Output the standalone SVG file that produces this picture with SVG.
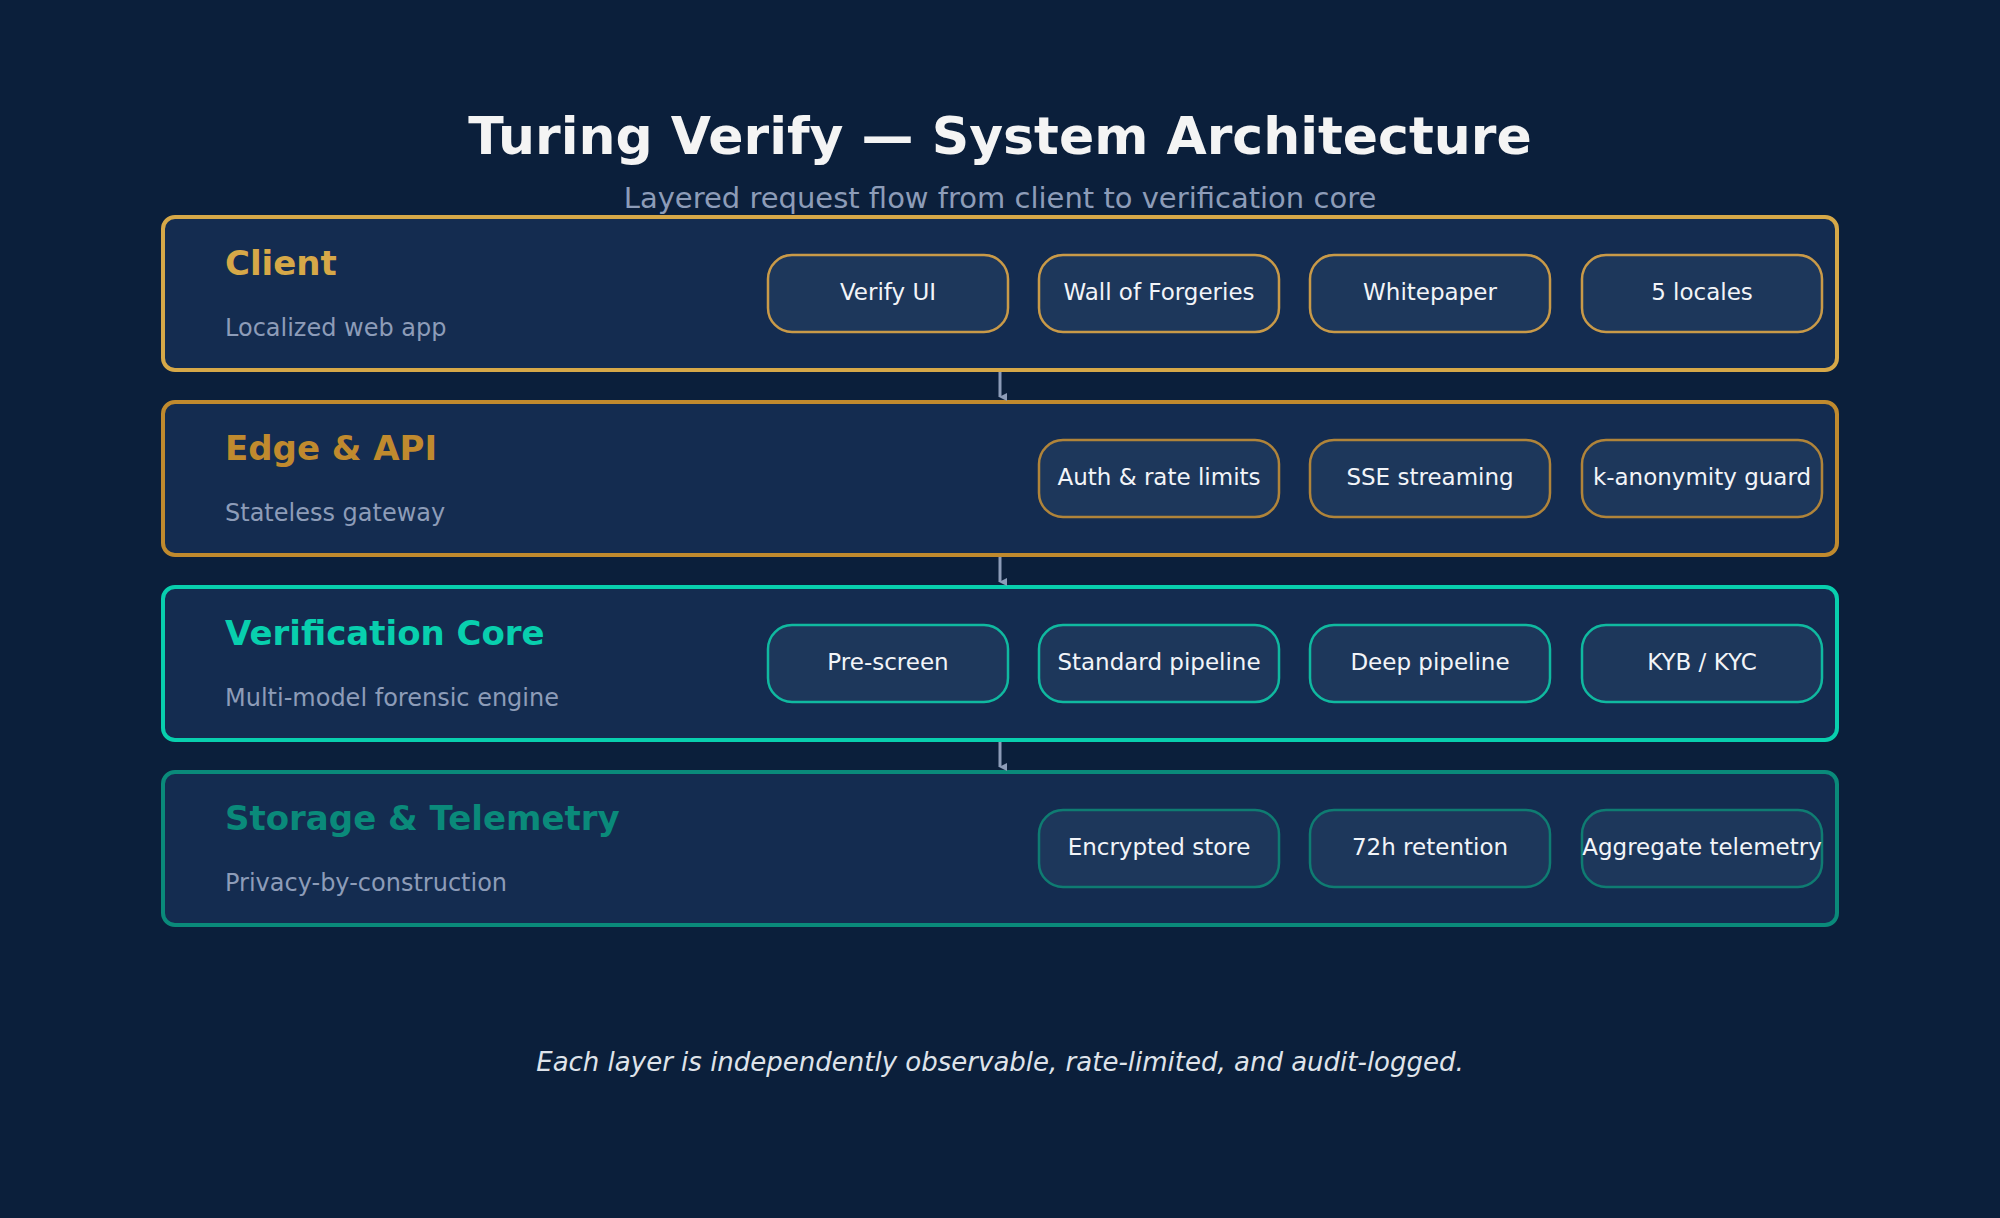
<svg xmlns="http://www.w3.org/2000/svg" width="2000" height="1218" viewBox="0 0 2000 1218">
<defs>
<style>
text{font-family:"DejaVu Sans","Noto Sans",sans-serif}
.layer{fill:#142c50;stroke-width:4}
.pill{fill:#1d375b;stroke-width:2.5}
.lt{font-size:34px;font-weight:bold}
.ls{font-size:24px;fill:#8d9cb8}
.pt{font-size:23px;fill:#f2f4f8;text-anchor:middle}
.conn{stroke:#8d9cb8;stroke-width:3;fill:none}
</style>
<marker id="ah" markerWidth="8" markerHeight="8" refX="4" refY="7" orient="auto" markerUnits="userSpaceOnUse" viewBox="0 0 8 8"><path d="M0,0 L8,0 L4,8 Z" fill="#8d9cb8"/></marker>
</defs>
<rect width="2000" height="1218" fill="#0b1f3b"/>
<text x="1000" y="154" font-size="52" font-weight="bold" fill="#f4f4f4" text-anchor="middle">Turing Verify — System Architecture</text>
<text x="1000" y="208" font-size="29" fill="#8d9cb8" text-anchor="middle">Layered request flow from client to verification core</text>
<g id="client">
<rect class="layer" x="163" y="217" width="1674" height="153" rx="12" stroke="#d6a848"/>
<text class="lt" x="225" y="275" fill="#d6a848">Client</text>
<text class="ls" x="225" y="336">Localized web app</text>
<g stroke="#c99a48"><rect class="pill" x="768" y="255" width="240" height="77" rx="24"/><rect class="pill" x="1039" y="255" width="240" height="77" rx="24"/><rect class="pill" x="1310" y="255" width="240" height="77" rx="24"/><rect class="pill" x="1582" y="255" width="240" height="77" rx="24"/></g>
<text class="pt" x="888" y="300">Verify UI</text><text class="pt" x="1159" y="300">Wall of Forgeries</text><text class="pt" x="1430" y="300">Whitepaper</text><text class="pt" x="1702" y="300">5 locales</text>
</g>
<g id="edge">
<rect class="layer" x="163" y="402" width="1674" height="153" rx="12" stroke="#c08a2e"/>
<text class="lt" x="225" y="460" fill="#c08a2e">Edge &amp; API</text>
<text class="ls" x="225" y="521">Stateless gateway</text>
<g stroke="#b0843a"><rect class="pill" x="1039" y="440" width="240" height="77" rx="24"/><rect class="pill" x="1310" y="440" width="240" height="77" rx="24"/><rect class="pill" x="1582" y="440" width="240" height="77" rx="24"/></g>
<text class="pt" x="1159" y="485">Auth &amp; rate limits</text><text class="pt" x="1430" y="485">SSE streaming</text><text class="pt" x="1702" y="485">k-anonymity guard</text>
</g>
<g id="core">
<rect class="layer" x="163" y="587" width="1674" height="153" rx="12" stroke="#08cfae"/>
<text class="lt" x="225" y="645" fill="#08cfae">Verification Core</text>
<text class="ls" x="225" y="706">Multi-model forensic engine</text>
<g stroke="#10b9a0"><rect class="pill" x="768" y="625" width="240" height="77" rx="24"/><rect class="pill" x="1039" y="625" width="240" height="77" rx="24"/><rect class="pill" x="1310" y="625" width="240" height="77" rx="24"/><rect class="pill" x="1582" y="625" width="240" height="77" rx="24"/></g>
<text class="pt" x="888" y="670">Pre-screen</text><text class="pt" x="1159" y="670">Standard pipeline</text><text class="pt" x="1430" y="670">Deep pipeline</text><text class="pt" x="1702" y="670">KYB / KYC</text>
</g>
<g id="storage">
<rect class="layer" x="163" y="772" width="1674" height="153" rx="12" stroke="#0a8a7a"/>
<text class="lt" x="225" y="830" fill="#0a8a7a">Storage &amp; Telemetry</text>
<text class="ls" x="225" y="891">Privacy-by-construction</text>
<g stroke="#0f7c72"><rect class="pill" x="1039" y="810" width="240" height="77" rx="24"/><rect class="pill" x="1310" y="810" width="240" height="77" rx="24"/><rect class="pill" x="1582" y="810" width="240" height="77" rx="24"/></g>
<text class="pt" x="1159" y="855">Encrypted store</text><text class="pt" x="1430" y="855">72h retention</text><text class="pt" x="1702" y="855">Aggregate telemetry</text>
</g>
<g id="connectors">
<line class="conn" x1="1000" y1="372" x2="1000" y2="397" marker-end="url(#ah)"/>
<line class="conn" x1="1000" y1="557" x2="1000" y2="582" marker-end="url(#ah)"/>
<line class="conn" x1="1000" y1="742" x2="1000" y2="767" marker-end="url(#ah)"/>
</g>
<text x="1000" y="1071" font-size="26" font-style="italic" fill="#dfe3ea" text-anchor="middle">Each layer is independently observable, rate-limited, and audit-logged.</text>
</svg>
